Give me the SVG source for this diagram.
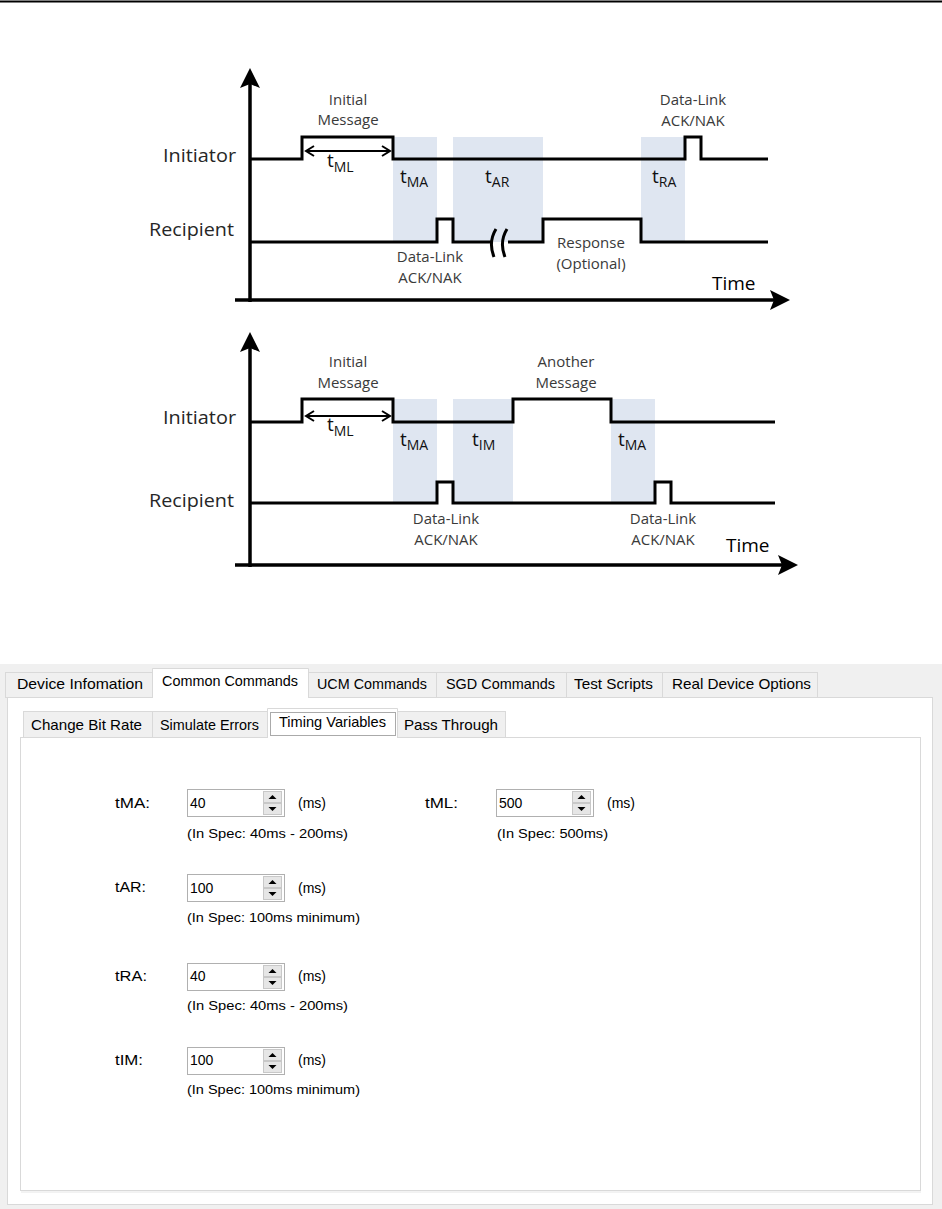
<svg xmlns="http://www.w3.org/2000/svg" width="942" height="1209" viewBox="0 0 942 1209">
<defs>
<style>
.sig{fill:none;stroke:#000;stroke-width:3;stroke-linejoin:miter}
.axis{fill:none;stroke:#000;stroke-width:3.5}
.shade{fill:#dfe6f1}
.big{font-family:"Open Sans","Noto Sans",sans-serif;font-size:19px;fill:#262626}
.sm{font-family:"Open Sans","Noto Sans",sans-serif;font-size:15px;fill:#3a3a3a;text-anchor:middle}
.t{font-family:"Open Sans","Noto Sans",sans-serif;font-size:19px;fill:#111}
.sub{font-size:14px}
.dim{fill:none;stroke:#000;stroke-width:2}
.tab{fill:#f0f0f0;stroke:#d9d9d9;stroke-width:1}
.tabsel{fill:#fff;stroke:#d9d9d9;stroke-width:1}
.ui{font-family:"Liberation Sans",Arial,sans-serif;font-size:15px;fill:#000}
.lbl{font-family:"Liberation Sans",Arial,sans-serif;font-size:14px;fill:#000}
.spec{font-family:"Liberation Sans",Arial,sans-serif;font-size:12.5px;fill:#000}
.box{fill:#fff;stroke:#b0b0b0;stroke-width:1}
.btn{fill:#e6e6e6;stroke:#c8c8c8;stroke-width:1}
.tri{fill:#000}
</style>
<marker id="ah" markerWidth="20" markerHeight="20" refX="16" refY="10" orient="auto" markerUnits="userSpaceOnUse">
<path d="M0,0 L20,10 L0,20 L4,10 z" fill="#000"/>
</marker>
<marker id="ch" markerWidth="12" markerHeight="12" refX="9" refY="6" orient="auto-start-reverse" markerUnits="userSpaceOnUse">
<path d="M1,1 L9,6 L1,11" fill="none" stroke="#000" stroke-width="2"/>
</marker>
</defs>
<rect width="942" height="1209" fill="#fff"/>
<line x1="0" y1="1.5" x2="942" y2="1.5" stroke="#000" stroke-width="2"/>

<!-- TOP DIAGRAM -->
<g id="top-shading">
<rect class="shade" x="393" y="137" width="44" height="105"/>
<rect class="shade" x="453" y="137" width="90" height="105"/>
<rect class="shade" x="641" y="137" width="44" height="105"/>
</g>
<g id="top-initiator-signal"><path class="sig" d="M250,159 H302 V137 H393 V159 H685 V137 H701 V159 H768"/></g>
<g id="top-recipient-signal">
<path class="sig" d="M250,242 H437 V219 H453 V242 H491"/>
<path class="sig" d="M496,229 Q488,242 494,257"/>
<path class="sig" d="M507,229 Q499,242 505,257"/>
<path class="sig" d="M508,242 H543 V219 H641 V242 H768"/>
</g>
<g id="top-labels">
<text class="big" x="163" y="162" textLength="73" lengthAdjust="spacingAndGlyphs">Initiator</text>
<text class="big" x="149" y="236" textLength="85" lengthAdjust="spacingAndGlyphs">Recipient</text>
<text class="sm" x="348" y="105">Initial</text>
<text class="sm" x="348" y="125">Message</text>
<text class="t" x="327" y="167">t<tspan class="sub" dy="5">ML</tspan></text>
<text class="t" x="400" y="183">t<tspan class="sub" dy="4">MA</tspan></text>
<text class="t" x="485" y="183">t<tspan class="sub" dy="4">AR</tspan></text>
<text class="t" x="652" y="183">t<tspan class="sub" dy="4">RA</tspan></text>
<text class="sm" x="430" y="262">Data-Link</text>
<text class="sm" x="430" y="283">ACK/NAK</text>
<text class="sm" x="693" y="105">Data-Link</text>
<text class="sm" x="693" y="126">ACK/NAK</text>
<text class="sm" x="591" y="248">Response</text>
<text class="sm" x="591" y="269">(Optional)</text>
<text class="big" x="712" y="290" fill="#000" style="fill:#000">Time</text>
</g>

<!-- BOTTOM DIAGRAM -->
<g id="bottom-shading">
<rect class="shade" x="393" y="399" width="44" height="104"/>
<rect class="shade" x="453" y="399" width="60" height="104"/>
<rect class="shade" x="611" y="399" width="44" height="104"/>
</g>
<g id="bottom-initiator-signal"><path class="sig" d="M250,422 H302 V399 H393 V422 H513 V399 H611 V422 H775"/></g>
<g id="bottom-recipient-signal"><path class="sig" d="M250,503 H437 V482 H453 V503 H655 V482 H671 V503 H775"/></g>
<g id="bottom-labels">
<text class="big" x="163" y="424" textLength="73" lengthAdjust="spacingAndGlyphs">Initiator</text>
<text class="big" x="149" y="507" textLength="85" lengthAdjust="spacingAndGlyphs">Recipient</text>
<text class="sm" x="348" y="367">Initial</text>
<text class="sm" x="348" y="388">Message</text>
<text class="sm" x="566" y="367">Another</text>
<text class="sm" x="566" y="388">Message</text>
<text class="t" x="327" y="431">t<tspan class="sub" dy="5">ML</tspan></text>
<text class="t" x="400" y="446">t<tspan class="sub" dy="4">MA</tspan></text>
<text class="t" x="472" y="446">t<tspan class="sub" dy="4">IM</tspan></text>
<text class="t" x="618" y="446">t<tspan class="sub" dy="4">MA</tspan></text>
<text class="sm" x="446" y="524">Data-Link</text>
<text class="sm" x="446" y="545">ACK/NAK</text>
<text class="sm" x="663" y="524">Data-Link</text>
<text class="sm" x="663" y="545">ACK/NAK</text>
<text class="big" x="726" y="552" style="fill:#000">Time</text>
</g>

<g id="connectors">
<line class="axis" x1="250" y1="302" x2="250" y2="72" marker-end="url(#ah)"/>
<line class="axis" x1="235" y1="300" x2="786" y2="300" marker-end="url(#ah)"/>
<line class="dim" x1="306" y1="151" x2="390" y2="151" marker-start="url(#ch)" marker-end="url(#ch)"/>
<line class="axis" x1="250" y1="567" x2="250" y2="336" marker-end="url(#ah)"/>
<line class="axis" x1="235" y1="565" x2="794" y2="565" marker-end="url(#ah)"/>
<line class="dim" x1="306" y1="416" x2="390" y2="416" marker-start="url(#ch)" marker-end="url(#ch)"/>
</g>

<!-- UI PANEL -->
<g id="ui-window">
<rect x="0" y="664" width="942" height="545" fill="#f0f0f0"/>
<rect x="7.5" y="697.5" width="925" height="507" fill="#fff" stroke="#d9d9d9"/>
<rect x="20.5" y="737.5" width="900" height="453" fill="#fff" stroke="#d9d9d9"/>
<line x1="21" y1="1192" x2="921" y2="1192" stroke="#e6e6e6" stroke-width="1"/>
</g>
<g id="ui-outer-tabs">
<rect class="tab" x="5.5" y="672.5" width="147" height="25"/>
<rect class="tab" x="308.5" y="672.5" width="128" height="25"/>
<rect class="tab" x="436.5" y="672.5" width="130" height="25"/>
<rect class="tab" x="566.5" y="672.5" width="96" height="25"/>
<rect class="tab" x="662.5" y="672.5" width="155" height="25"/>
<path class="tabsel" d="M152.5,698 V668.5 H308.5 V698"/>
<rect x="153" y="696" width="155" height="3" fill="#fff"/>
<text class="ui" x="17" y="689" textLength="126" lengthAdjust="spacingAndGlyphs">Device Infomation</text>
<text class="ui" x="162" y="686" textLength="136" lengthAdjust="spacingAndGlyphs">Common Commands</text>
<text class="ui" x="317" y="689" textLength="110" lengthAdjust="spacingAndGlyphs">UCM Commands</text>
<text class="ui" x="446" y="689" textLength="109" lengthAdjust="spacingAndGlyphs">SGD Commands</text>
<text class="ui" x="574" y="689" textLength="79" lengthAdjust="spacingAndGlyphs">Test Scripts</text>
<text class="ui" x="672" y="689" textLength="139" lengthAdjust="spacingAndGlyphs">Real Device Options</text>
</g>
<g id="ui-inner-tabs">
<rect class="tab" x="23.5" y="711.5" width="129" height="26"/>
<rect class="tab" x="152.5" y="711.5" width="115" height="26"/>
<rect class="tab" x="397.5" y="711.5" width="108" height="26"/>
<path class="tabsel" d="M267.5,738 V708.5 H397.5 V738"/>
<rect x="268" y="736" width="129" height="3" fill="#fff"/>
<rect x="270.5" y="712.5" width="125" height="23" fill="none" stroke="#555" stroke-width="1" stroke-dasharray="1,1"/>
<text class="ui" x="31" y="730" textLength="111" lengthAdjust="spacingAndGlyphs">Change Bit Rate</text>
<text class="ui" x="160" y="730" textLength="99" lengthAdjust="spacingAndGlyphs">Simulate Errors</text>
<text class="ui" x="279" y="727" textLength="107" lengthAdjust="spacingAndGlyphs">Timing Variables</text>
<text class="ui" x="404" y="730" textLength="94" lengthAdjust="spacingAndGlyphs">Pass Through</text>
</g>

<g id="field-tMA">
<text class="lbl" x="115" y="808" textLength="35" lengthAdjust="spacingAndGlyphs">tMA:</text>
<rect class="box" x="187.5" y="789.5" width="97" height="27"/>
<rect class="btn" x="263.5" y="791.5" width="18" height="11"/>
<rect class="btn" x="263.5" y="803.5" width="18" height="11"/>
<path class="tri" d="M268.5,799 L272.5,795 L276.5,799 z"/>
<path class="tri" d="M268.5,807 L272.5,811 L276.5,807 z"/>
<text class="lbl" x="190" y="808">40</text>
<text class="lbl" x="298" y="808">(ms)</text>
<text class="spec" x="187" y="838" textLength="161" lengthAdjust="spacingAndGlyphs">(In Spec: 40ms - 200ms)</text>
</g>
<g id="field-tML">
<text class="lbl" x="425" y="808" textLength="33" lengthAdjust="spacingAndGlyphs">tML:</text>
<rect class="box" x="496.5" y="789.5" width="97" height="27"/>
<rect class="btn" x="572.5" y="791.5" width="18" height="11"/>
<rect class="btn" x="572.5" y="803.5" width="18" height="11"/>
<path class="tri" d="M577.5,799 L581.5,795 L585.5,799 z"/>
<path class="tri" d="M577.5,807 L581.5,811 L585.5,807 z"/>
<text class="lbl" x="499" y="808">500</text>
<text class="lbl" x="607" y="808">(ms)</text>
<text class="spec" x="497" y="838" textLength="111" lengthAdjust="spacingAndGlyphs">(In Spec: 500ms)</text>
</g>
<g id="field-tAR">
<text class="lbl" x="115" y="892" textLength="31" lengthAdjust="spacingAndGlyphs">tAR:</text>
<rect class="box" x="187.5" y="874.5" width="97" height="27"/>
<rect class="btn" x="263.5" y="876.5" width="18" height="11"/>
<rect class="btn" x="263.5" y="888.5" width="18" height="11"/>
<path class="tri" d="M268.5,884 L272.5,880 L276.5,884 z"/>
<path class="tri" d="M268.5,892 L272.5,896 L276.5,892 z"/>
<text class="lbl" x="190" y="893">100</text>
<text class="lbl" x="298" y="893">(ms)</text>
<text class="spec" x="187" y="922" textLength="173" lengthAdjust="spacingAndGlyphs">(In Spec: 100ms minimum)</text>
</g>
<g id="field-tRA">
<text class="lbl" x="115" y="981" textLength="32" lengthAdjust="spacingAndGlyphs">tRA:</text>
<rect class="box" x="187.5" y="963.5" width="97" height="27"/>
<rect class="btn" x="263.5" y="965.5" width="18" height="11"/>
<rect class="btn" x="263.5" y="977.5" width="18" height="11"/>
<path class="tri" d="M268.5,973 L272.5,969 L276.5,973 z"/>
<path class="tri" d="M268.5,981 L272.5,985 L276.5,981 z"/>
<text class="lbl" x="190" y="981">40</text>
<text class="lbl" x="298" y="981">(ms)</text>
<text class="spec" x="187" y="1010" textLength="161" lengthAdjust="spacingAndGlyphs">(In Spec: 40ms - 200ms)</text>
</g>
<g id="field-tIM">
<text class="lbl" x="115" y="1065" textLength="28" lengthAdjust="spacingAndGlyphs">tIM:</text>
<rect class="box" x="187.5" y="1047.5" width="97" height="27"/>
<rect class="btn" x="263.5" y="1049.5" width="18" height="11"/>
<rect class="btn" x="263.5" y="1061.5" width="18" height="11"/>
<path class="tri" d="M268.5,1057 L272.5,1053 L276.5,1057 z"/>
<path class="tri" d="M268.5,1065 L272.5,1069 L276.5,1065 z"/>
<text class="lbl" x="190" y="1065">100</text>
<text class="lbl" x="298" y="1065">(ms)</text>
<text class="spec" x="187" y="1094" textLength="173" lengthAdjust="spacingAndGlyphs">(In Spec: 100ms minimum)</text>
</g>
</svg>
